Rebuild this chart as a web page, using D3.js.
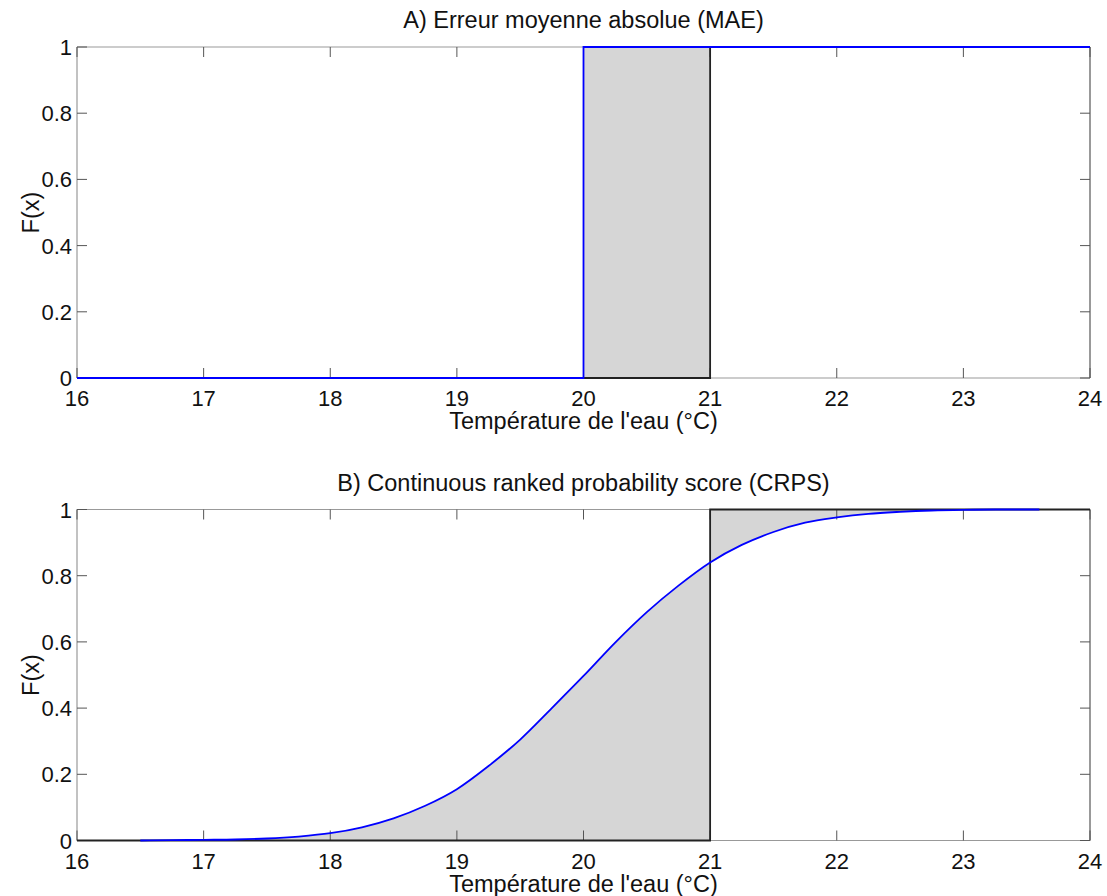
<!DOCTYPE html>
<html><head><meta charset="utf-8">
<script src="https://cdn.jsdelivr.net/npm/d3@7"></script>
<style>body{margin:0;background:#fff}svg{display:block}text{font-family:"Liberation Sans",Arial,sans-serif;fill:#111}</style>
</head><body><svg id="c" width="1107" height="896"></svg>
<script>
const xTicks = [16,17,18,19,20,21,22,23,24];
const yTicks = [0,0.2,0.4,0.6,0.8,1];
const yTickLabels = ["0","0.2","0.4","0.6","0.8","1"];
const titles = ["A) Erreur moyenne absolue (MAE)","B) Continuous ranked probability score (CRPS)"];
const xLabel = "Température de l'eau (°C)";
const yLabel = "F(x)";
// Panel A: forecast value and observation
const forecastA = 20;
const observation = 21;
// Panel B: forecast CDF
const cdfX = [16.5,16.75,17,17.25,17.5,17.75,18,18.25,18.5,18.75,19,19.25,19.5,19.75,20,20.25,20.5,20.75,21,21.25,21.5,21.75,22,22.25,22.5,22.75,23,23.25,23.6];
const cdfY = [0.000,0.001,0.002,0.003,0.006,0.012,0.022,0.040,0.067,0.105,0.155,0.225,0.305,0.400,0.497,0.598,0.690,0.770,0.840,0.893,0.932,0.960,0.976,0.987,0.993,0.997,0.999,1.000,1.000];

const svg = d3.select("#c");
const L = 77, R = 1090;
const panels = [{top:47, bot:378}, {top:509.5, bot:840.5}];
const x = d3.scaleLinear().domain([16,24]).range([L,R]);
const TF = 22, LF = 23.5;

panels.forEach((p,i)=>{
  const y = d3.scaleLinear().domain([0,1]).range([p.bot,p.top]);
  const g = svg.append("g");
  const fill = "#d6d6d6";
  if(i===0){
    g.append("rect").attr("x",x(forecastA)).attr("y",y(1)).attr("width",x(observation)-x(forecastA)).attr("height",y(0)-y(1)).attr("fill",fill);
  } else {
    const pts = cdfX.map((v,k)=>[v,cdfY[k]]);
    const below = pts.filter(d=>d[0]<=observation);
    const above = pts.filter(d=>d[0]>=observation);
    const area1 = d3.area().curve(d3.curveMonotoneX).x(d=>x(d[0])).y0(y(0)).y1(d=>y(d[1]));
    g.append("path").attr("d",area1(below)).attr("fill",fill);
    const area2 = d3.area().curve(d3.curveMonotoneX).x(d=>x(d[0])).y0(y(1)).y1(d=>y(d[1]));
    g.append("path").attr("d",area2(above)).attr("fill",fill);
  }
  // axis box
  g.append("line").attr("x1",L).attr("x2",R).attr("y1",p.top).attr("y2",p.top).attr("stroke","#999").attr("stroke-width",1.2);
  g.append("line").attr("x1",L).attr("x2",R).attr("y1",p.bot).attr("y2",p.bot).attr("stroke","#999").attr("stroke-width",1.2);
  g.append("line").attr("x1",L).attr("x2",L).attr("y1",p.top).attr("y2",p.bot).attr("stroke","#999").attr("stroke-width",1.2);
  g.append("line").attr("x1",R).attr("x2",R).attr("y1",p.top).attr("y2",p.bot).attr("stroke","#555").attr("stroke-width",1.2);
  // ticks
  xTicks.forEach(t=>{
    g.append("line").attr("x1",x(t)).attr("x2",x(t)).attr("y1",p.bot).attr("y2",p.bot-10).attr("stroke","#555");
    g.append("line").attr("x1",x(t)).attr("x2",x(t)).attr("y1",p.top).attr("y2",p.top+10).attr("stroke","#555");
    g.append("text").attr("x",x(t)).attr("y",p.bot+28).attr("text-anchor","middle").attr("font-size",TF).text(t);
  });
  yTicks.forEach((t,k)=>{
    g.append("line").attr("x1",L).attr("x2",L+10).attr("y1",y(t)).attr("y2",y(t)).attr("stroke","#555");
    g.append("line").attr("x1",R).attr("x2",R-10).attr("y1",y(t)).attr("y2",y(t)).attr("stroke","#555");
    g.append("text").attr("x",72).attr("y",y(t)+8).attr("text-anchor","end").attr("font-size",TF).text(yTickLabels[k]);
  });
  // observation step (black)
  const stepObs = [[16,0],[observation,0],[observation,1],[24,1]];
  const line = d3.line().x(d=>x(d[0])).y(d=>y(d[1]));
  g.append("path").attr("d",line(stepObs)).attr("fill","none").attr("stroke","#222").attr("stroke-width",1.8);
  if(i===0){
    const stepF = [[16,0],[forecastA,0],[forecastA,1],[24,1]];
    g.append("path").attr("d",line(stepF)).attr("fill","none").attr("stroke","#0000ff").attr("stroke-width",1.8);
  } else {
    const pts = cdfX.map((v,k)=>[v,cdfY[k]]);
    g.append("path").attr("d",d3.line().curve(d3.curveMonotoneX).x(d=>x(d[0])).y(d=>y(d[1]))(pts)).attr("fill","none").attr("stroke","#0000ff").attr("stroke-width",1.8);
  }
  // labels
  g.append("text").attr("x",(L+R)/2).attr("y",p.top-19).attr("text-anchor","middle").attr("font-size",LF).text(titles[i]);
  g.append("text").attr("x",(L+R)/2).attr("y",p.bot+51).attr("text-anchor","middle").attr("font-size",LF).text(xLabel);
  g.append("text").attr("transform",`translate(39,${(p.top+p.bot)/2}) rotate(-90)`).attr("text-anchor","middle").attr("font-size",LF).text(yLabel);
});
</script></body></html>
